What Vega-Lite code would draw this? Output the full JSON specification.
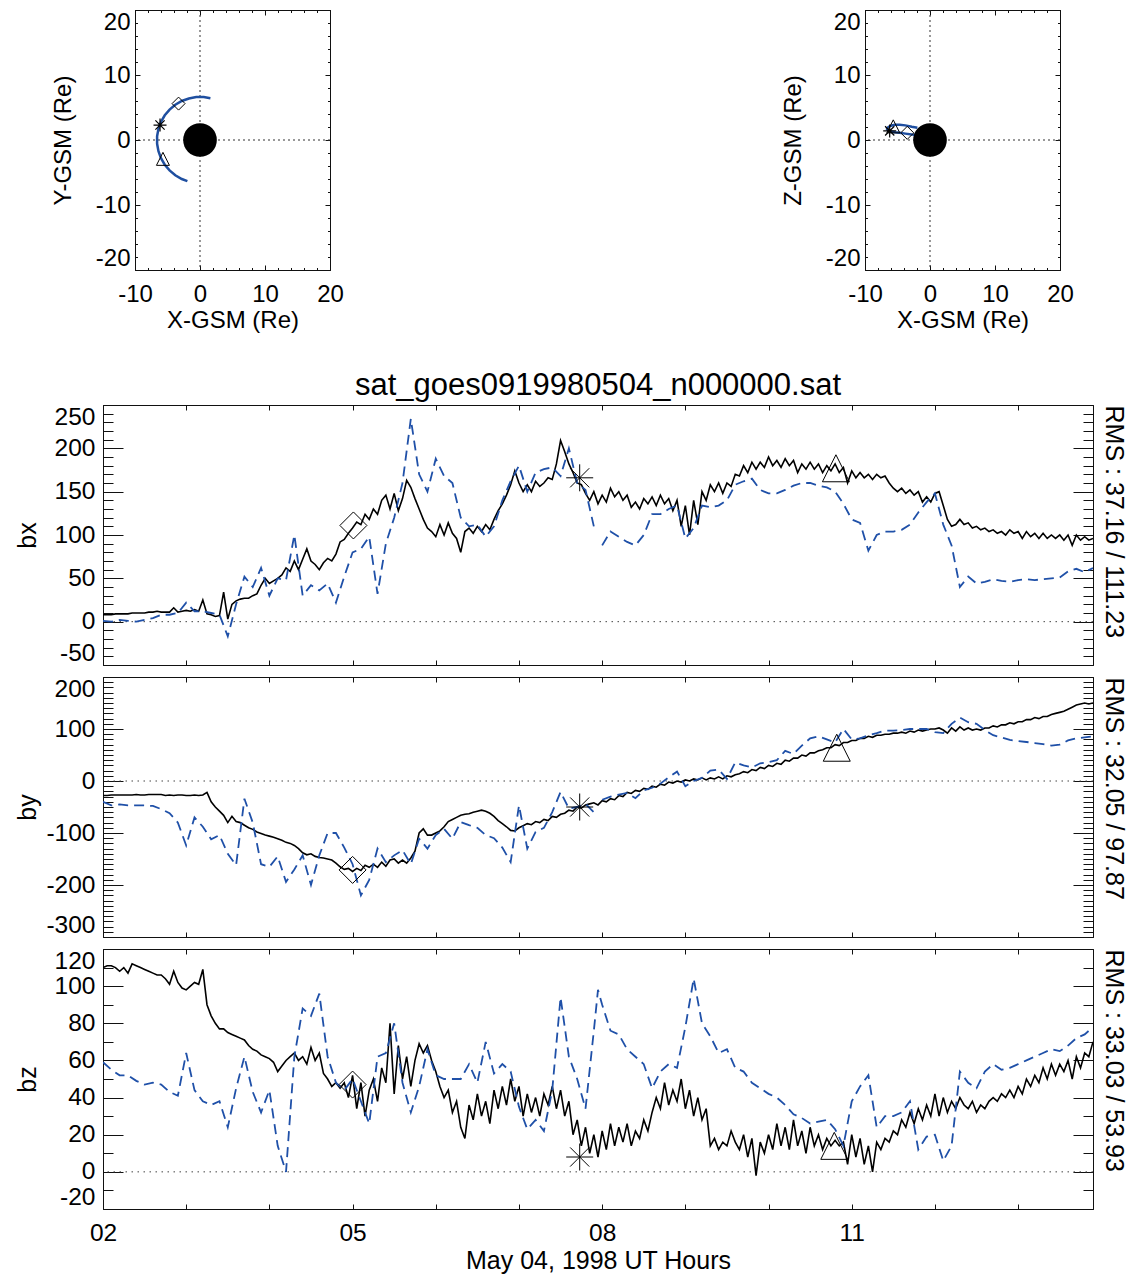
{
"$schema": "https://vega.github.io/schema/vega-lite/v6.json",
"padding": {"left": 14, "top": 9, "right": 5, "bottom": 5},
"config": {
  "font": "Liberation Sans",
  "view": {"stroke": "#111", "strokeWidth": 1},
  "axis": {"domain": false, "grid": false, "labelFont": "Liberation Sans", "titleFont": "Liberation Sans", "labelFontSize": 24.5, "titleFontSize": 25, "labelColor": "#000", "titleColor": "#000", "tickColor": "#111", "tickWidth": 1, "titleFontWeight": "normal", "labelOverlap": false},
  "title": {"font": "Liberation Sans", "fontWeight": "normal", "color": "#000"}
},
"datasets": {
"obs": [
{"t":2.00,"bx":8,"by":-28,"bz":110},{"t":2.05,"bx":8,"by":-28,"bz":111},{"t":2.10,"bx":8,"by":-27,"bz":111},{"t":2.15,"bx":9,"by":-27,"bz":110},{"t":2.20,"bx":9,"by":-27,"bz":108},{"t":2.25,"bx":9,"by":-27,"bz":110},{"t":2.30,"bx":9,"by":-27,"bz":107},{"t":2.35,"bx":10,"by":-27,"bz":112},{"t":2.40,"bx":10,"by":-26,"bz":111},{"t":2.45,"bx":10,"by":-27,"bz":110},
{"t":2.50,"bx":10,"by":-27,"bz":109},{"t":2.55,"bx":11,"by":-26,"bz":108},{"t":2.60,"bx":11,"by":-26,"bz":107},{"t":2.65,"bx":12,"by":-26,"bz":106},{"t":2.70,"bx":11,"by":-26,"bz":106},{"t":2.75,"bx":11,"by":-28,"bz":104},{"t":2.80,"bx":11,"by":-27,"bz":101},{"t":2.85,"bx":16,"by":-28,"bz":108},{"t":2.90,"bx":11,"by":-27,"bz":102},{"t":2.95,"bx":12,"by":-27,"bz":99},
{"t":3.00,"bx":13,"by":-28,"bz":98},{"t":3.05,"bx":12,"by":-28,"bz":100},{"t":3.10,"bx":14,"by":-27,"bz":102},{"t":3.15,"bx":12,"by":-28,"bz":101},{"t":3.20,"bx":25,"by":-27,"bz":109},{"t":3.25,"bx":9,"by":-22,"bz":90},{"t":3.30,"bx":8,"by":-40,"bz":84},{"t":3.35,"bx":6,"by":-50,"bz":80},{"t":3.40,"bx":7,"by":-58,"bz":77},{"t":3.45,"bx":34,"by":-66,"bz":77},
{"t":3.50,"bx":3,"by":-80,"bz":75},{"t":3.55,"bx":20,"by":-68,"bz":74},{"t":3.60,"bx":24,"by":-78,"bz":73},{"t":3.65,"bx":26,"by":-80,"bz":72},{"t":3.70,"bx":27,"by":-85,"bz":71},{"t":3.75,"bx":27,"by":-90,"bz":68},{"t":3.80,"bx":30,"by":-93,"bz":66},{"t":3.85,"bx":32,"by":-98,"bz":65},{"t":3.90,"bx":42,"by":-101,"bz":63},{"t":3.95,"bx":50,"by":-104,"bz":62},
{"t":4.00,"bx":44,"by":-106,"bz":61},{"t":4.05,"bx":47,"by":-108,"bz":59},{"t":4.10,"bx":50,"by":-111,"bz":54},{"t":4.15,"bx":54,"by":-114,"bz":57},{"t":4.20,"bx":62,"by":-118,"bz":60},{"t":4.25,"bx":58,"by":-120,"bz":62},{"t":4.30,"bx":70,"by":-124,"bz":64},{"t":4.35,"bx":60,"by":-130,"bz":60},{"t":4.40,"bx":72,"by":-138,"bz":62},{"t":4.45,"bx":84,"by":-142,"bz":58},
{"t":4.50,"bx":70,"by":-140,"bz":67},{"t":4.55,"bx":66,"by":-145,"bz":60},{"t":4.60,"bx":60,"by":-147,"bz":64},{"t":4.65,"bx":68,"by":-148,"bz":53},{"t":4.70,"bx":73,"by":-150,"bz":50},{"t":4.75,"bx":70,"by":-152,"bz":46},{"t":4.80,"bx":78,"by":-158,"bz":48},{"t":4.85,"bx":92,"by":-165,"bz":45},{"t":4.90,"bx":95,"by":-170,"bz":48},{"t":4.95,"bx":102,"by":-168,"bz":40},
{"t":5.00,"bx":108,"by":-174,"bz":52},{"t":5.05,"bx":115,"by":-168,"bz":34},{"t":5.10,"bx":112,"by":-172,"bz":48},{"t":5.15,"bx":124,"by":-162,"bz":30},{"t":5.20,"bx":118,"by":-166,"bz":44},{"t":5.25,"bx":130,"by":-160,"bz":50},{"t":5.30,"bx":124,"by":-166,"bz":38},{"t":5.35,"bx":140,"by":-156,"bz":56},{"t":5.40,"bx":146,"by":-164,"bz":48},{"t":5.45,"bx":130,"by":-152,"bz":80},
{"t":5.50,"bx":148,"by":-150,"bz":42},{"t":5.55,"bx":128,"by":-158,"bz":68},{"t":5.60,"bx":142,"by":-152,"bz":50},{"t":5.65,"bx":163,"by":-158,"bz":62},{"t":5.70,"bx":155,"by":-148,"bz":46},{"t":5.75,"bx":142,"by":-135,"bz":60},{"t":5.80,"bx":130,"by":-100,"bz":69},{"t":5.85,"bx":118,"by":-92,"bz":64},{"t":5.90,"bx":108,"by":-104,"bz":68},{"t":5.95,"bx":104,"by":-104,"bz":60},
{"t":6.00,"bx":98,"by":-100,"bz":54},{"t":6.05,"bx":112,"by":-96,"bz":46},{"t":6.10,"bx":100,"by":-88,"bz":40},{"t":6.15,"bx":114,"by":-78,"bz":44},{"t":6.20,"bx":102,"by":-74,"bz":32},{"t":6.25,"bx":96,"by":-70,"bz":38},{"t":6.30,"bx":80,"by":-66,"bz":24},{"t":6.35,"bx":104,"by":-64,"bz":18},{"t":6.40,"bx":108,"by":-63,"bz":36},{"t":6.45,"bx":102,"by":-60,"bz":28},
{"t":6.50,"bx":110,"by":-58,"bz":42},{"t":6.55,"bx":104,"by":-56,"bz":30},{"t":6.60,"bx":112,"by":-58,"bz":38},{"t":6.65,"bx":106,"by":-62,"bz":26},{"t":6.70,"bx":118,"by":-68,"bz":44},{"t":6.75,"bx":128,"by":-76,"bz":34},{"t":6.80,"bx":136,"by":-82,"bz":46},{"t":6.85,"bx":146,"by":-88,"bz":36},{"t":6.90,"bx":158,"by":-95,"bz":50},{"t":6.95,"bx":174,"by":-96,"bz":38},
{"t":7.00,"bx":160,"by":-90,"bz":46},{"t":7.05,"bx":150,"by":-86,"bz":30},{"t":7.10,"bx":158,"by":-82,"bz":42},{"t":7.15,"bx":150,"by":-84,"bz":32},{"t":7.20,"bx":162,"by":-78,"bz":40},{"t":7.25,"bx":156,"by":-80,"bz":30},{"t":7.30,"bx":160,"by":-74,"bz":42},{"t":7.35,"bx":166,"by":-76,"bz":36},{"t":7.40,"bx":164,"by":-68,"bz":46},{"t":7.45,"bx":182,"by":-70,"bz":34},
{"t":7.50,"bx":209,"by":-64,"bz":44},{"t":7.55,"bx":196,"by":-62,"bz":30},{"t":7.60,"bx":182,"by":-56,"bz":38},{"t":7.65,"bx":172,"by":-58,"bz":20},{"t":7.70,"bx":160,"by":-50,"bz":28},{"t":7.75,"bx":158,"by":-52,"bz":14},{"t":7.80,"bx":148,"by":-46,"bz":24},{"t":7.85,"bx":140,"by":-44,"bz":10},{"t":7.90,"bx":150,"by":-42,"bz":20},{"t":7.95,"bx":136,"by":-46,"bz":8},
{"t":8.00,"bx":146,"by":-38,"bz":22},{"t":8.05,"bx":138,"by":-40,"bz":12},{"t":8.10,"bx":154,"by":-34,"bz":26},{"t":8.15,"bx":144,"by":-36,"bz":14},{"t":8.20,"bx":150,"by":-28,"bz":24},{"t":8.25,"bx":140,"by":-30,"bz":16},{"t":8.30,"bx":146,"by":-22,"bz":26},{"t":8.35,"bx":132,"by":-24,"bz":14},{"t":8.40,"bx":138,"by":-18,"bz":22},{"t":8.45,"bx":130,"by":-20,"bz":18},
{"t":8.50,"bx":142,"by":-14,"bz":28},{"t":8.55,"bx":136,"by":-16,"bz":22},{"t":8.60,"bx":144,"by":-10,"bz":32},{"t":8.65,"bx":134,"by":-12,"bz":40},{"t":8.70,"bx":146,"by":-6,"bz":34},{"t":8.75,"bx":136,"by":-8,"bz":48},{"t":8.80,"bx":142,"by":-2,"bz":36},{"t":8.85,"bx":128,"by":-4,"bz":44},{"t":8.90,"bx":140,"by":0,"bz":38},{"t":8.95,"bx":110,"by":-2,"bz":50},
{"t":9.00,"bx":134,"by":2,"bz":34},{"t":9.05,"bx":100,"by":0,"bz":44},{"t":9.10,"bx":140,"by":4,"bz":30},{"t":9.15,"bx":112,"by":2,"bz":40},{"t":9.20,"bx":150,"by":6,"bz":28},{"t":9.25,"bx":140,"by":2,"bz":34},{"t":9.30,"bx":158,"by":6,"bz":14},{"t":9.35,"bx":150,"by":4,"bz":18},{"t":9.40,"bx":160,"by":8,"bz":12},{"t":9.45,"bx":148,"by":4,"bz":16},
{"t":9.50,"bx":160,"by":10,"bz":14},{"t":9.55,"bx":156,"by":8,"bz":22},{"t":9.60,"bx":170,"by":12,"bz":16},{"t":9.65,"bx":168,"by":14,"bz":12},{"t":9.70,"bx":180,"by":18,"bz":20},{"t":9.75,"bx":172,"by":16,"bz":8},{"t":9.80,"bx":184,"by":22,"bz":18},{"t":9.85,"bx":176,"by":20,"bz":-2},{"t":9.90,"bx":184,"by":26,"bz":16},{"t":9.95,"bx":178,"by":24,"bz":10},
{"t":10.00,"bx":190,"by":30,"bz":20},{"t":10.05,"bx":180,"by":28,"bz":12},{"t":10.10,"bx":186,"by":34,"bz":26},{"t":10.15,"bx":178,"by":32,"bz":14},{"t":10.20,"bx":188,"by":40,"bz":24},{"t":10.25,"bx":180,"by":38,"bz":12},{"t":10.30,"bx":186,"by":44,"bz":28},{"t":10.35,"bx":172,"by":44,"bz":14},{"t":10.40,"bx":182,"by":50,"bz":22},{"t":10.45,"bx":176,"by":48,"bz":10},
{"t":10.50,"bx":184,"by":54,"bz":24},{"t":10.55,"bx":176,"by":54,"bz":14},{"t":10.60,"bx":182,"by":58,"bz":20},{"t":10.65,"bx":172,"by":60,"bz":12},{"t":10.70,"bx":180,"by":64,"bz":18},{"t":10.75,"bx":174,"by":64,"bz":14},{"t":10.80,"bx":182,"by":70,"bz":17},{"t":10.85,"bx":172,"by":68,"bz":14},{"t":10.90,"bx":178,"by":74,"bz":16},{"t":10.95,"bx":160,"by":74,"bz":4},
{"t":11.00,"bx":174,"by":78,"bz":20},{"t":11.05,"bx":166,"by":78,"bz":8},{"t":11.10,"bx":172,"by":82,"bz":18},{"t":11.15,"bx":166,"by":82,"bz":4},{"t":11.20,"bx":170,"by":86,"bz":14},{"t":11.25,"bx":164,"by":84,"bz":0},{"t":11.30,"bx":170,"by":88,"bz":16},{"t":11.35,"bx":166,"by":88,"bz":12},{"t":11.40,"bx":168,"by":90,"bz":18},{"t":11.45,"bx":160,"by":90,"bz":16},
{"t":11.50,"bx":154,"by":92,"bz":22},{"t":11.55,"bx":150,"by":92,"bz":20},{"t":11.60,"bx":154,"by":94,"bz":28},{"t":11.65,"bx":148,"by":92,"bz":24},{"t":11.70,"bx":152,"by":96,"bz":32},{"t":11.75,"bx":146,"by":94,"bz":26},{"t":11.80,"bx":150,"by":98,"bz":34},{"t":11.85,"bx":138,"by":96,"bz":28},{"t":11.90,"bx":144,"by":98,"bz":36},{"t":11.95,"bx":138,"by":100,"bz":30},
{"t":12.00,"bx":148,"by":100,"bz":42},{"t":12.05,"bx":150,"by":102,"bz":30},{"t":12.10,"bx":134,"by":98,"bz":40},{"t":12.15,"bx":118,"by":92,"bz":32},{"t":12.20,"bx":110,"by":102,"bz":38},{"t":12.25,"bx":112,"by":96,"bz":34},{"t":12.30,"bx":118,"by":104,"bz":40},{"t":12.35,"bx":112,"by":98,"bz":36},{"t":12.40,"bx":114,"by":102,"bz":34},{"t":12.45,"bx":108,"by":98,"bz":38},
{"t":12.50,"bx":110,"by":100,"bz":32},{"t":12.55,"bx":106,"by":98,"bz":36},{"t":12.60,"bx":108,"by":102,"bz":34},{"t":12.65,"bx":104,"by":102,"bz":38},{"t":12.70,"bx":106,"by":106,"bz":40},{"t":12.75,"bx":102,"by":104,"bz":38},{"t":12.80,"bx":104,"by":108,"bz":42},{"t":12.85,"bx":100,"by":108,"bz":40},{"t":12.90,"bx":106,"by":112,"bz":44},{"t":12.95,"bx":102,"by":110,"bz":40},
{"t":13.00,"bx":104,"by":114,"bz":46},{"t":13.05,"bx":96,"by":114,"bz":42},{"t":13.10,"bx":104,"by":118,"bz":50},{"t":13.15,"bx":98,"by":118,"bz":46},{"t":13.20,"bx":102,"by":122,"bz":52},{"t":13.25,"bx":96,"by":120,"bz":48},{"t":13.30,"bx":102,"by":124,"bz":56},{"t":13.35,"bx":96,"by":124,"bz":50},{"t":13.40,"bx":100,"by":128,"bz":58},{"t":13.45,"bx":96,"by":130,"bz":52},
{"t":13.50,"bx":100,"by":132,"bz":58},{"t":13.55,"bx":94,"by":134,"bz":54},{"t":13.60,"bx":100,"by":138,"bz":60},{"t":13.65,"bx":88,"by":142,"bz":50},{"t":13.70,"bx":100,"by":146,"bz":62},{"t":13.75,"bx":94,"by":148,"bz":56},{"t":13.80,"bx":98,"by":150,"bz":64},{"t":13.85,"bx":94,"by":148,"bz":62},{"t":13.90,"bx":96,"by":150,"bz":70}
],
"mod": [
{"t":2.0,"bx":1,"by":-40,"bz":59},{"t":2.1,"bx":0,"by":-47,"bz":55},{"t":2.2,"bx":2,"by":-45,"bz":52},{"t":2.3,"bx":1,"by":-47,"bz":52},{"t":2.4,"bx":0,"by":-47,"bz":49},{"t":2.5,"bx":2,"by":-47,"bz":47},{"t":2.6,"bx":4,"by":-48,"bz":48},{"t":2.7,"bx":8,"by":-54,"bz":47},{"t":2.8,"bx":8,"by":-62,"bz":43},{"t":2.9,"bx":10,"by":-80,"bz":41},
{"t":3.0,"bx":22,"by":-124,"bz":64},{"t":3.1,"bx":12,"by":-70,"bz":44},{"t":3.2,"bx":12,"by":-88,"bz":38},{"t":3.3,"bx":10,"by":-112,"bz":36},{"t":3.4,"bx":8,"by":-104,"bz":38},{"t":3.5,"bx":-17,"by":-140,"bz":24},{"t":3.6,"bx":20,"by":-162,"bz":45},{"t":3.7,"bx":52,"by":-34,"bz":62},{"t":3.8,"bx":40,"by":-80,"bz":43},{"t":3.9,"bx":62,"by":-160,"bz":32},
{"t":4.0,"bx":30,"by":-165,"bz":44},{"t":4.1,"bx":50,"by":-145,"bz":14},{"t":4.2,"bx":48,"by":-194,"bz":0},{"t":4.3,"bx":100,"by":-170,"bz":62},{"t":4.4,"bx":30,"by":-143,"bz":88},{"t":4.5,"bx":42,"by":-200,"bz":84},{"t":4.6,"bx":36,"by":-143,"bz":96},{"t":4.7,"bx":44,"by":-100,"bz":62},{"t":4.8,"bx":22,"by":-100,"bz":48},{"t":4.9,"bx":52,"by":-128,"bz":44},
{"t":5.0,"bx":80,"by":-160,"bz":50},{"t":5.1,"bx":84,"by":-220,"bz":38},{"t":5.2,"bx":98,"by":-190,"bz":26},{"t":5.3,"bx":32,"by":-130,"bz":62},{"t":5.4,"bx":90,"by":-156,"bz":64},{"t":5.5,"bx":120,"by":-143,"bz":80},{"t":5.6,"bx":160,"by":-133,"bz":48},{"t":5.7,"bx":234,"by":-160,"bz":32},{"t":5.8,"bx":170,"by":-111,"bz":46},{"t":5.9,"bx":150,"by":-130,"bz":66},
{"t":6.0,"bx":188,"by":-104,"bz":52},{"t":6.1,"bx":168,"by":-92,"bz":50},{"t":6.2,"bx":160,"by":-111,"bz":50},{"t":6.3,"bx":120,"by":-79,"bz":50},{"t":6.4,"bx":110,"by":-85,"bz":58},{"t":6.5,"bx":112,"by":-90,"bz":48},{"t":6.6,"bx":98,"by":-104,"bz":70},{"t":6.7,"bx":110,"by":-110,"bz":53},{"t":6.8,"bx":140,"by":-128,"bz":58},{"t":6.9,"bx":162,"by":-156,"bz":54},
{"t":7.0,"bx":180,"by":-47,"bz":35},{"t":7.1,"bx":150,"by":-130,"bz":23},{"t":7.2,"bx":172,"by":-98,"bz":28},{"t":7.3,"bx":176,"by":-90,"bz":22},{"t":7.4,"bx":178,"by":-60,"bz":44},{"t":7.5,"bx":168,"by":-21,"bz":94},{"t":7.6,"bx":200,"by":-53,"bz":62},{"t":7.7,"bx":160,"by":-50,"bz":50},{"t":7.8,"bx":152,"by":-44,"bz":34},{"t":7.9,"bx":110,"by":-60,"bz":76},{"t":7.95,"bz":98},
{"t":8.0,"bx":88,"by":-36,"bz":90},{"t":8.1,"bx":104,"by":-30,"bz":76},{"t":8.2,"bx":98,"by":-26,"bz":74},{"t":8.3,"bx":92,"by":-23,"bz":66},{"t":8.4,"bx":88,"by":-33,"bz":62},{"t":8.5,"bx":100,"by":-18,"bz":58},{"t":8.6,"bx":124,"by":-13,"bz":45},{"t":8.7,"bx":124,"by":-5,"bz":54},{"t":8.8,"bx":130,"by":7,"bz":58},{"t":8.9,"bx":134,"by":18,"bz":56},
{"t":9.0,"bx":96,"by":-10,"bz":78},{"t":9.1,"bx":108,"by":0,"bz":104},{"t":9.2,"bx":134,"by":6,"bz":80},{"t":9.3,"bx":132,"by":20,"bz":73},{"t":9.4,"bx":134,"by":22,"bz":64},{"t":9.5,"bx":140,"by":4,"bz":66},{"t":9.6,"bx":158,"by":36,"bz":56},{"t":9.7,"bx":162,"by":30,"bz":54},{"t":9.8,"bx":165,"by":26,"bz":48},{"t":9.9,"bx":152,"by":34,"bz":45},
{"t":10.0,"bx":148,"by":36,"bz":42},{"t":10.1,"bx":148,"by":40,"bz":40},{"t":10.2,"bx":152,"by":58,"bz":36},{"t":10.3,"bx":157,"by":52,"bz":31},{"t":10.4,"bx":160,"by":68,"bz":29},{"t":10.5,"bx":160,"by":82,"bz":26},{"t":10.6,"bx":157,"by":86,"bz":27},{"t":10.7,"bx":155,"by":80,"bz":28},{"t":10.8,"bx":150,"by":74,"bz":23},{"t":10.9,"bx":136,"by":100,"bz":14},
{"t":11.0,"bx":118,"by":80,"bz":38},{"t":11.1,"bx":114,"by":82,"bz":46},{"t":11.2,"bx":82,"by":88,"bz":52},{"t":11.3,"bx":100,"by":92,"bz":24},{"t":11.4,"bx":104,"by":97,"bz":30},{"t":11.5,"bx":104,"by":97,"bz":30},{"t":11.6,"bx":106,"by":98,"bz":32},{"t":11.7,"bx":112,"by":100,"bz":38},{"t":11.8,"bx":126,"by":100,"bz":12},{"t":11.9,"bx":138,"by":100,"bz":19},
{"t":12.0,"bx":148,"by":94,"bz":20},{"t":12.1,"bx":112,"by":92,"bz":6},{"t":12.2,"bx":88,"by":110,"bz":14},{"t":12.3,"bx":40,"by":122,"bz":54},{"t":12.4,"bx":52,"by":113,"bz":48},{"t":12.5,"bx":44,"by":110,"bz":45},{"t":12.6,"bx":46,"by":98,"bz":54},{"t":12.7,"bx":49,"by":88,"bz":58},{"t":12.8,"bx":47,"by":84,"bz":55},{"t":12.9,"bx":46,"by":79,"bz":56},
{"t":13.0,"bx":48,"by":77,"bz":58},{"t":13.1,"bx":49,"by":75,"bz":60},{"t":13.2,"bx":48,"by":73,"bz":62},{"t":13.3,"bx":49,"by":71,"bz":64},{"t":13.4,"bx":50,"by":68,"bz":66},{"t":13.5,"bx":51,"by":70,"bz":65},{"t":13.6,"bx":58,"by":78,"bz":68},{"t":13.7,"bx":61,"by":82,"bz":72},{"t":13.8,"bx":57,"by":84,"bz":74},{"t":13.9,"bx":62,"by":86,"bz":78}
],
"mk": [
{"p":"bx","s":"d","t":5.01,"v":111},{"p":"bx","s":"a","t":7.73,"v":166},{"p":"bx","s":"tr","t":10.81,"v":177},
{"p":"by","s":"d","t":5.0,"v":-171},{"p":"by","s":"a","t":7.73,"v":-50},{"p":"by","s":"tr","t":10.82,"v":64},
{"p":"bz","s":"d","t":5.0,"v":47},{"p":"bz","s":"a","t":7.73,"v":8},{"p":"bz","s":"tr","t":10.79,"v":14}
],
"orb": [
{"p":"xy","i":0,"x":1.6,"y":6.42},{"p":"xy","i":1,"x":0.58,"y":6.6},{"p":"xy","i":2,"x":-0.58,"y":6.6},{"p":"xy","i":3,"x":-1.71,"y":6.39},{"p":"xy","i":4,"x":-2.8,"y":6.0},{"p":"xy","i":5,"x":-3.8,"y":5.42},{"p":"xy","i":6,"x":-4.68,"y":4.68},{"p":"xy","i":7,"x":-5.42,"y":3.8},{"p":"xy","i":8,"x":-6.0,"y":2.8},{"p":"xy","i":9,"x":-6.39,"y":1.71},
{"p":"xy","i":10,"x":-6.6,"y":0.58},{"p":"xy","i":11,"x":-6.6,"y":-0.58},{"p":"xy","i":12,"x":-6.39,"y":-1.71},{"p":"xy","i":13,"x":-6.0,"y":-2.8},{"p":"xy","i":14,"x":-5.42,"y":-3.8},{"p":"xy","i":15,"x":-4.68,"y":-4.68},{"p":"xy","i":16,"x":-3.8,"y":-5.42},{"p":"xy","i":17,"x":-2.8,"y":-6.0},{"p":"xy","i":18,"x":-1.94,"y":-6.33},
{"p":"xz","i":0,"x":1.6,"y":0.5},{"p":"xz","i":1,"x":0.58,"y":0.6},{"p":"xz","i":2,"x":-0.58,"y":0.68},{"p":"xz","i":3,"x":-1.71,"y":0.76},{"p":"xz","i":4,"x":-2.8,"y":0.85},{"p":"xz","i":5,"x":-3.8,"y":0.98},{"p":"xz","i":6,"x":-4.68,"y":1.1},{"p":"xz","i":7,"x":-5.42,"y":1.2},{"p":"xz","i":8,"x":-6.0,"y":1.3},{"p":"xz","i":9,"x":-6.39,"y":1.45},
{"p":"xz","i":10,"x":-6.6,"y":1.62},{"p":"xz","i":11,"x":-6.6,"y":1.8},{"p":"xz","i":12,"x":-6.39,"y":2.0},{"p":"xz","i":13,"x":-6.0,"y":2.2},{"p":"xz","i":14,"x":-5.42,"y":2.35},{"p":"xz","i":15,"x":-4.68,"y":2.35},{"p":"xz","i":16,"x":-3.8,"y":2.25},{"p":"xz","i":17,"x":-2.8,"y":2.05},{"p":"xz","i":18,"x":-1.94,"y":1.9}
],
"omk": [
{"p":"xy","s":"d","x":-3.3,"y":5.6},{"p":"xy","s":"a","x":-6.15,"y":2.3},{"p":"xy","s":"tr","x":-5.7,"y":-2.9},
{"p":"xz","s":"d","x":-3.5,"y":1.1},{"p":"xz","s":"a","x":-6.2,"y":1.4},{"p":"xz","s":"tr","x":-5.65,"y":2.1}
]
},
"vconcat": [
{
 "hconcat": [
  {"width": 32, "height": 260, "data": {"values": []}, "mark": "point", "view": {"stroke": null}},
  {
   "width": 195, "height": 260,
   "layer": [
    {"data": {"values": [{}]}, "mark": {"type": "rule", "color": "#333", "strokeDash": [2, 3], "strokeWidth": 1},
     "encoding": {"y": {"datum": 0, "type": "quantitative", "scale": {"domain": [-20, 20], "nice": false, "zero": false},
       "axis": {"orient": "left", "values": [-20,-18,-16,-14,-12,-10,-8,-6,-4,-2,0,2,4,6,8,10,12,14,16,18,20], "labels": false, "tickSize": -2.5, "title": null}}}},
    {"data": {"values": [{}]}, "mark": {"type": "rule", "color": "#333", "strokeDash": [2, 3], "strokeWidth": 1},
     "encoding": {"x": {"datum": 0, "type": "quantitative", "scale": {"domain": [-10, 20], "nice": false, "zero": false},
       "axis": {"orient": "bottom", "values": [-10,-8,-6,-4,-2,0,2,4,6,8,10,12,14,16,18,20], "labels": false, "tickSize": -2.5, "title": null}}}},
    {"data": {"name": "orb"}, "transform": [{"filter": "datum.p == 'xy'"}],
     "mark": {"type": "line", "color": "#1f4fa0", "strokeWidth": 2.5},
     "encoding": {
       "x": {"field": "x", "type": "quantitative", "scale": {"domain": [-10, 20], "nice": false, "zero": false},
         "axis": {"orient": "bottom", "values": [-10, 0, 10, 20], "ticks": false, "labelFlush": false, "labelPadding": 12, "labelFontSize": 24, "labelExpr": "(datum.value < 0 ? '-' : '') + abs(datum.value)", "title": "X-GSM (Re)", "titleFontSize": 24, "titlePadding": 2}},
       "y": {"field": "y", "type": "quantitative", "scale": {"domain": [-20, 20], "nice": false, "zero": false},
         "axis": {"orient": "left", "values": [-20, -10, 0, 10, 20], "ticks": false, "labelFlush": true, "labelPadding": 5, "labelFontSize": 24, "labelExpr": "(datum.value < 0 ? '-' : '') + abs(datum.value)", "title": "Y-GSM (Re)", "titleFontSize": 24, "titleAngle": 270, "titleBaseline": "bottom", "titleAlign": "center", "titleX": -60, "titleY": 130}},
       "order": {"field": "i"}}},
    {"data": {"values": [{}]}, "mark": {"type": "point", "shape": "circle", "filled": true, "color": "#000", "size": 1134, "opacity": 1},
     "encoding": {
       "x": {"datum": 0, "type": "quantitative", "scale": {"domain": [-10, 20], "nice": false, "zero": false}, "axis": {"orient": "top", "values": [-10, 0, 10, 20], "labels": false, "tickSize": -5, "title": null}},
       "y": {"datum": 0, "type": "quantitative", "scale": {"domain": [-20, 20], "nice": false, "zero": false}, "axis": {"orient": "right", "values": [-20, -10, 0, 10, 20], "labels": false, "tickSize": -5, "title": null}}}},
    {"data": {"name": "omk"}, "transform": [{"filter": "datum.p == 'xy' && datum.s == 'd'"}],
     "mark": {"type": "point", "shape": "diamond", "filled": false, "color": "#000", "size": 169, "strokeWidth": 1, "opacity": 1},
     "encoding": {
       "x": {"field": "x", "type": "quantitative", "scale": {"domain": [-10, 20], "nice": false, "zero": false}, "axis": {"orient": "bottom", "values": [-10, 0, 10, 20], "labels": false, "tickSize": -5, "title": null}},
       "y": {"field": "y", "type": "quantitative", "scale": {"domain": [-20, 20], "nice": false, "zero": false}, "axis": {"orient": "left", "values": [-20, -10, 0, 10, 20], "labels": false, "tickSize": -5, "title": null}}}},
    {"data": {"name": "omk"}, "transform": [{"filter": "datum.p == 'xy' && datum.s == 'a'"}],
     "mark": {"type": "point", "shape": "M-1,0L1,0M0,-1L0,1M-0.71,-0.71L0.71,0.71M-0.71,0.71L0.71,-0.71", "filled": false, "color": "#000", "size": 169, "strokeWidth": 1.2, "opacity": 1},
     "encoding": {
       "x": {"field": "x", "type": "quantitative", "scale": {"domain": [-10, 20], "nice": false, "zero": false}, "axis": {"orient": "top", "values": [-10,-8,-6,-4,-2,0,2,4,6,8,10,12,14,16,18,20], "labels": false, "tickSize": -2.5, "title": null}},
       "y": {"field": "y", "type": "quantitative", "scale": {"domain": [-20, 20], "nice": false, "zero": false}, "axis": {"orient": "right", "values": [-20,-18,-16,-14,-12,-10,-8,-6,-4,-2,0,2,4,6,8,10,12,14,16,18,20], "labels": false, "tickSize": -2.5, "title": null}}}},
    {"data": {"name": "omk"}, "transform": [{"filter": "datum.p == 'xy' && datum.s == 'tr'"}],
     "mark": {"type": "point", "shape": "M0,-1L1,1L-1,1Z", "filled": false, "color": "#000", "size": 169, "strokeWidth": 1, "opacity": 1},
     "encoding": {
       "x": {"field": "x", "type": "quantitative", "scale": {"domain": [-10, 20], "nice": false, "zero": false}, "axis": null},
       "y": {"field": "y", "type": "quantitative", "scale": {"domain": [-20, 20], "nice": false, "zero": false}, "axis": null}}}
   ],
   "resolve": {"axis": {"x": "independent", "y": "independent"}}
  },
  {"width": 535, "height": 260, "data": {"values": []}, "mark": "point", "view": {"stroke": null}},
  {
   "width": 195, "height": 260,
   "layer": [
    {"data": {"values": [{}]}, "mark": {"type": "rule", "color": "#333", "strokeDash": [2, 3], "strokeWidth": 1},
     "encoding": {"y": {"datum": 0, "type": "quantitative", "scale": {"domain": [-20, 20], "nice": false, "zero": false},
       "axis": {"orient": "left", "values": [-20,-18,-16,-14,-12,-10,-8,-6,-4,-2,0,2,4,6,8,10,12,14,16,18,20], "labels": false, "tickSize": -2.5, "title": null}}}},
    {"data": {"values": [{}]}, "mark": {"type": "rule", "color": "#333", "strokeDash": [2, 3], "strokeWidth": 1},
     "encoding": {"x": {"datum": 0, "type": "quantitative", "scale": {"domain": [-10, 20], "nice": false, "zero": false},
       "axis": {"orient": "bottom", "values": [-10,-8,-6,-4,-2,0,2,4,6,8,10,12,14,16,18,20], "labels": false, "tickSize": -2.5, "title": null}}}},
    {"data": {"name": "orb"}, "transform": [{"filter": "datum.p == 'xz'"}],
     "mark": {"type": "line", "color": "#1f4fa0", "strokeWidth": 2.5},
     "encoding": {
       "x": {"field": "x", "type": "quantitative", "scale": {"domain": [-10, 20], "nice": false, "zero": false},
         "axis": {"orient": "bottom", "values": [-10, 0, 10, 20], "ticks": false, "labelFlush": false, "labelPadding": 12, "labelFontSize": 24, "labelExpr": "(datum.value < 0 ? '-' : '') + abs(datum.value)", "title": "X-GSM (Re)", "titleFontSize": 24, "titlePadding": 2}},
       "y": {"field": "y", "type": "quantitative", "scale": {"domain": [-20, 20], "nice": false, "zero": false},
         "axis": {"orient": "left", "values": [-20, -10, 0, 10, 20], "ticks": false, "labelFlush": true, "labelPadding": 5, "labelFontSize": 24, "labelExpr": "(datum.value < 0 ? '-' : '') + abs(datum.value)", "title": "Z-GSM (Re)", "titleFontSize": 24, "titleAngle": 270, "titleBaseline": "bottom", "titleAlign": "center", "titleX": -60, "titleY": 130}},
       "order": {"field": "i"}}},
    {"data": {"values": [{}]}, "mark": {"type": "point", "shape": "circle", "filled": true, "color": "#000", "size": 1134, "opacity": 1},
     "encoding": {
       "x": {"datum": 0, "type": "quantitative", "scale": {"domain": [-10, 20], "nice": false, "zero": false}, "axis": {"orient": "top", "values": [-10, 0, 10, 20], "labels": false, "tickSize": -5, "title": null}},
       "y": {"datum": 0, "type": "quantitative", "scale": {"domain": [-20, 20], "nice": false, "zero": false}, "axis": {"orient": "right", "values": [-20, -10, 0, 10, 20], "labels": false, "tickSize": -5, "title": null}}}},
    {"data": {"name": "omk"}, "transform": [{"filter": "datum.p == 'xz' && datum.s == 'd'"}],
     "mark": {"type": "point", "shape": "diamond", "filled": false, "color": "#000", "size": 169, "strokeWidth": 1, "opacity": 1},
     "encoding": {
       "x": {"field": "x", "type": "quantitative", "scale": {"domain": [-10, 20], "nice": false, "zero": false}, "axis": {"orient": "bottom", "values": [-10, 0, 10, 20], "labels": false, "tickSize": -5, "title": null}},
       "y": {"field": "y", "type": "quantitative", "scale": {"domain": [-20, 20], "nice": false, "zero": false}, "axis": {"orient": "left", "values": [-20, -10, 0, 10, 20], "labels": false, "tickSize": -5, "title": null}}}},
    {"data": {"name": "omk"}, "transform": [{"filter": "datum.p == 'xz' && datum.s == 'a'"}],
     "mark": {"type": "point", "shape": "M-1,0L1,0M0,-1L0,1M-0.71,-0.71L0.71,0.71M-0.71,0.71L0.71,-0.71", "filled": false, "color": "#000", "size": 169, "strokeWidth": 1.2, "opacity": 1},
     "encoding": {
       "x": {"field": "x", "type": "quantitative", "scale": {"domain": [-10, 20], "nice": false, "zero": false}, "axis": {"orient": "top", "values": [-10,-8,-6,-4,-2,0,2,4,6,8,10,12,14,16,18,20], "labels": false, "tickSize": -2.5, "title": null}},
       "y": {"field": "y", "type": "quantitative", "scale": {"domain": [-20, 20], "nice": false, "zero": false}, "axis": {"orient": "right", "values": [-20,-18,-16,-14,-12,-10,-8,-6,-4,-2,0,2,4,6,8,10,12,14,16,18,20], "labels": false, "tickSize": -2.5, "title": null}}}},
    {"data": {"name": "omk"}, "transform": [{"filter": "datum.p == 'xz' && datum.s == 'tr'"}],
     "mark": {"type": "point", "shape": "M0,-1L1,1L-1,1Z", "filled": false, "color": "#000", "size": 169, "strokeWidth": 1, "opacity": 1},
     "encoding": {
       "x": {"field": "x", "type": "quantitative", "scale": {"domain": [-10, 20], "nice": false, "zero": false}, "axis": null},
       "y": {"field": "y", "type": "quantitative", "scale": {"domain": [-20, 20], "nice": false, "zero": false}, "axis": null}}}
   ],
   "resolve": {"axis": {"x": "independent", "y": "independent"}}
  }
 ],
 "spacing": 0,
 "bounds": "flush"
},
{"width": 10, "height": 371, "data": {"values": []}, "mark": "point", "view": {"stroke": null}},
{
 "width": 990, "height": 260,
 "title": {"text": "sat_goes0919980504_n000000.sat", "fontSize": 31, "anchor": "middle", "frame": "group", "offset": 2},
 "layer": [
  {"data": {"values": [{}]}, "mark": {"type": "rule", "color": "#444", "strokeDash": [1.5, 4.5], "strokeWidth": 1},
   "encoding": {"y": {"datum": 0, "type": "quantitative", "scale": {"domain": [-50, 250], "nice": false, "zero": false},
     "axis": {"orient": "left", "values": [-50,-40,-30,-20,-10,0,10,20,30,40,50,60,70,80,90,100,110,120,130,140,150,160,170,180,190,200,210,220,230,240,250], "labels": false, "tickSize": -10, "title": null}}}},
  {"data": {"name": "obs"}, "mark": {"type": "line", "color": "#000", "strokeWidth": 1.6, "clip": true},
   "encoding": {
     "x": {"field": "t", "type": "quantitative", "scale": {"domain": [2, 13.9], "nice": false, "zero": false}, "axis": {"orient": "bottom", "values": [2,3,4,5,6,7,8,9,10,11,12,13], "labels": false, "tickSize": -5, "title": null}},
     "y": {"field": "bx", "type": "quantitative", "scale": {"domain": [-50, 250], "nice": false, "zero": false},
       "axis": {"orient": "left", "values": [-50, 0, 50, 100, 150, 200, 250], "ticks": false, "labelFlush": true, "labelPadding": 8, "labelExpr": "(datum.value < 0 ? '-' : '') + abs(datum.value)", "title": "bx", "titleAngle": 270, "titleBaseline": "bottom", "titleAlign": "center", "titleX": -63, "titleY": 130}}}},
  {"data": {"name": "mod"}, "mark": {"type": "line", "color": "#1f50a8", "strokeWidth": 1.8, "strokeDash": [10, 6], "clip": true},
   "encoding": {
     "x": {"field": "t", "type": "quantitative", "scale": {"domain": [2, 13.9], "nice": false, "zero": false}, "axis": {"orient": "top", "values": [2,3,4,5,6,7,8,9,10,11,12,13], "labels": false, "tickSize": -5, "title": null}},
     "y": {"field": "bx", "type": "quantitative", "scale": {"domain": [-50, 250], "nice": false, "zero": false}, "axis": {"orient": "left", "values": [-50, 0, 50, 100, 150, 200, 250], "labels": false, "tickSize": -20, "title": null}}}},
  {"data": {"name": "mk"}, "transform": [{"filter": "datum.p == 'bx' && datum.s == 'd'"}],
   "mark": {"type": "point", "shape": "diamond", "filled": false, "color": "#000", "size": 729, "strokeWidth": 1, "opacity": 1},
   "encoding": {
     "x": {"field": "t", "type": "quantitative", "scale": {"domain": [2, 13.9], "nice": false, "zero": false}, "axis": null},
     "y": {"field": "v", "type": "quantitative", "scale": {"domain": [-50, 250], "nice": false, "zero": false},
       "axis": {"orient": "right", "values": [-50, 0, 50, 100, 150, 200, 250], "labels": false, "tickSize": -20, "title": "RMS : 37.16 / 111.23", "titleAngle": 90, "titleAlign": "left", "titleBaseline": "bottom", "titleX": 7, "titleY": 0}}}},
  {"data": {"name": "mk"}, "transform": [{"filter": "datum.p == 'bx' && datum.s == 'a'"}],
   "mark": {"type": "point", "shape": "M-1,0L1,0M0,-1L0,1M-0.71,-0.71L0.71,0.71M-0.71,0.71L0.71,-0.71", "filled": false, "color": "#000", "size": 729, "strokeWidth": 1, "opacity": 1},
   "encoding": {
     "x": {"field": "t", "type": "quantitative", "scale": {"domain": [2, 13.9], "nice": false, "zero": false}, "axis": null},
     "y": {"field": "v", "type": "quantitative", "scale": {"domain": [-50, 250], "nice": false, "zero": false},
       "axis": {"orient": "right", "values": [-50,-40,-30,-20,-10,0,10,20,30,40,50,60,70,80,90,100,110,120,130,140,150,160,170,180,190,200,210,220,230,240,250], "labels": false, "tickSize": -10, "title": null}}}},
  {"data": {"name": "mk"}, "transform": [{"filter": "datum.p == 'bx' && datum.s == 'tr'"}],
   "mark": {"type": "point", "shape": "M0,-1L1,1L-1,1Z", "filled": false, "color": "#000", "size": 729, "strokeWidth": 1, "opacity": 1},
   "encoding": {
     "x": {"field": "t", "type": "quantitative", "scale": {"domain": [2, 13.9], "nice": false, "zero": false}, "axis": null},
     "y": {"field": "v", "type": "quantitative", "scale": {"domain": [-50, 250], "nice": false, "zero": false}, "axis": null}}}
 ],
 "resolve": {"axis": {"x": "independent", "y": "independent"}}
},
{
 "width": 990, "height": 260,
 "layer": [
  {"data": {"values": [{}]}, "mark": {"type": "rule", "color": "#444", "strokeDash": [1.5, 4.5], "strokeWidth": 1},
   "encoding": {"y": {"datum": 0, "type": "quantitative", "scale": {"domain": [-300, 200], "nice": false, "zero": false},
     "axis": {"orient": "left", "values": [-300,-290,-280,-270,-260,-250,-240,-230,-220,-210,-200,-190,-180,-170,-160,-150,-140,-130,-120,-110,-100,-90,-80,-70,-60,-50,-40,-30,-20,-10,0,10,20,30,40,50,60,70,80,90,100,110,120,130,140,150,160,170,180,190,200], "labels": false, "tickSize": -10, "title": null}}}},
  {"data": {"name": "obs"}, "mark": {"type": "line", "color": "#000", "strokeWidth": 1.6, "clip": true},
   "encoding": {
     "x": {"field": "t", "type": "quantitative", "scale": {"domain": [2, 13.9], "nice": false, "zero": false}, "axis": {"orient": "bottom", "values": [2,3,4,5,6,7,8,9,10,11,12,13], "labels": false, "tickSize": -5, "title": null}},
     "y": {"field": "by", "type": "quantitative", "scale": {"domain": [-300, 200], "nice": false, "zero": false},
       "axis": {"orient": "left", "values": [-300, -200, -100, 0, 100, 200], "ticks": false, "labelFlush": true, "labelPadding": 8, "labelExpr": "(datum.value < 0 ? '-' : '') + abs(datum.value)", "title": "by", "titleAngle": 270, "titleBaseline": "bottom", "titleAlign": "center", "titleX": -63, "titleY": 130}}}},
  {"data": {"name": "mod"}, "mark": {"type": "line", "color": "#1f50a8", "strokeWidth": 1.8, "strokeDash": [10, 6], "clip": true},
   "encoding": {
     "x": {"field": "t", "type": "quantitative", "scale": {"domain": [2, 13.9], "nice": false, "zero": false}, "axis": {"orient": "top", "values": [2,3,4,5,6,7,8,9,10,11,12,13], "labels": false, "tickSize": -5, "title": null}},
     "y": {"field": "by", "type": "quantitative", "scale": {"domain": [-300, 200], "nice": false, "zero": false}, "axis": {"orient": "left", "values": [-300, -200, -100, 0, 100, 200], "labels": false, "tickSize": -20, "title": null}}}},
  {"data": {"name": "mk"}, "transform": [{"filter": "datum.p == 'by' && datum.s == 'd'"}],
   "mark": {"type": "point", "shape": "diamond", "filled": false, "color": "#000", "size": 729, "strokeWidth": 1, "opacity": 1},
   "encoding": {
     "x": {"field": "t", "type": "quantitative", "scale": {"domain": [2, 13.9], "nice": false, "zero": false}, "axis": null},
     "y": {"field": "v", "type": "quantitative", "scale": {"domain": [-300, 200], "nice": false, "zero": false},
       "axis": {"orient": "right", "values": [-300, -200, -100, 0, 100, 200], "labels": false, "tickSize": -20, "title": "RMS : 32.05 / 97.87", "titleAngle": 90, "titleAlign": "left", "titleBaseline": "bottom", "titleX": 7, "titleY": 0}}}},
  {"data": {"name": "mk"}, "transform": [{"filter": "datum.p == 'by' && datum.s == 'a'"}],
   "mark": {"type": "point", "shape": "M-1,0L1,0M0,-1L0,1M-0.71,-0.71L0.71,0.71M-0.71,0.71L0.71,-0.71", "filled": false, "color": "#000", "size": 729, "strokeWidth": 1, "opacity": 1},
   "encoding": {
     "x": {"field": "t", "type": "quantitative", "scale": {"domain": [2, 13.9], "nice": false, "zero": false}, "axis": null},
     "y": {"field": "v", "type": "quantitative", "scale": {"domain": [-300, 200], "nice": false, "zero": false},
       "axis": {"orient": "right", "values": [-300,-290,-280,-270,-260,-250,-240,-230,-220,-210,-200,-190,-180,-170,-160,-150,-140,-130,-120,-110,-100,-90,-80,-70,-60,-50,-40,-30,-20,-10,0,10,20,30,40,50,60,70,80,90,100,110,120,130,140,150,160,170,180,190,200], "labels": false, "tickSize": -10, "title": null}}}},
  {"data": {"name": "mk"}, "transform": [{"filter": "datum.p == 'by' && datum.s == 'tr'"}],
   "mark": {"type": "point", "shape": "M0,-1L1,1L-1,1Z", "filled": false, "color": "#000", "size": 729, "strokeWidth": 1, "opacity": 1},
   "encoding": {
     "x": {"field": "t", "type": "quantitative", "scale": {"domain": [2, 13.9], "nice": false, "zero": false}, "axis": null},
     "y": {"field": "v", "type": "quantitative", "scale": {"domain": [-300, 200], "nice": false, "zero": false}, "axis": null}}}
 ],
 "resolve": {"axis": {"x": "independent", "y": "independent"}}
},
{
 "width": 990, "height": 260,
 "layer": [
  {"data": {"values": [{}]}, "mark": {"type": "rule", "color": "#444", "strokeDash": [1.5, 4.5], "strokeWidth": 1},
   "encoding": {"y": {"datum": 0, "type": "quantitative", "scale": {"domain": [-20, 120], "nice": false, "zero": false},
     "axis": {"orient": "left", "values": [-20,-10,0,10,20,30,40,50,60,70,80,90,100,110,120], "labels": false, "tickSize": -10, "title": null}}}},
  {"data": {"name": "obs"}, "mark": {"type": "line", "color": "#000", "strokeWidth": 1.6, "clip": true},
   "encoding": {
     "x": {"field": "t", "type": "quantitative", "scale": {"domain": [2, 13.9], "nice": false, "zero": false}, "axis": {"orient": "bottom", "values": [2,3,4,5,6,7,8,9,10,11,12,13], "labels": false, "tickSize": -5, "title": null}},
     "y": {"field": "bz", "type": "quantitative", "scale": {"domain": [-20, 120], "nice": false, "zero": false},
       "axis": {"orient": "left", "values": [-20, 0, 20, 40, 60, 80, 100, 120], "ticks": false, "labelFlush": true, "labelPadding": 8, "labelExpr": "(datum.value < 0 ? '-' : '') + abs(datum.value)", "title": "bz", "titleAngle": 270, "titleBaseline": "bottom", "titleAlign": "center", "titleX": -63, "titleY": 130}}}},
  {"data": {"name": "mod"}, "mark": {"type": "line", "color": "#1f50a8", "strokeWidth": 1.8, "strokeDash": [10, 6], "clip": true},
   "encoding": {
     "x": {"field": "t", "type": "quantitative", "scale": {"domain": [2, 13.9], "nice": false, "zero": false}, "axis": {"orient": "top", "values": [2,3,4,5,6,7,8,9,10,11,12,13], "labels": false, "tickSize": -5, "title": null}},
     "y": {"field": "bz", "type": "quantitative", "scale": {"domain": [-20, 120], "nice": false, "zero": false}, "axis": {"orient": "left", "values": [-20, 0, 20, 40, 60, 80, 100, 120], "labels": false, "tickSize": -20, "title": null}}}},
  {"data": {"name": "mk"}, "transform": [{"filter": "datum.p == 'bz' && datum.s == 'd'"}],
   "mark": {"type": "point", "shape": "diamond", "filled": false, "color": "#000", "size": 729, "strokeWidth": 1, "opacity": 1},
   "encoding": {
     "x": {"field": "t", "type": "quantitative", "scale": {"domain": [2, 13.9], "nice": false, "zero": false},
       "axis": {"orient": "bottom", "values": [2, 5, 8, 11], "ticks": false, "labelFlush": false, "labelPadding": 12.7, "labelExpr": "(datum.value < 10 ? '0' : '') + datum.value", "title": "May 04, 1998 UT Hours", "titlePadding": 3}},
     "y": {"field": "v", "type": "quantitative", "scale": {"domain": [-20, 120], "nice": false, "zero": false},
       "axis": {"orient": "right", "values": [-20, 0, 20, 40, 60, 80, 100, 120], "labels": false, "tickSize": -20, "title": "RMS : 33.03 / 53.93", "titleAngle": 90, "titleAlign": "left", "titleBaseline": "bottom", "titleX": 7, "titleY": 0}}}},
  {"data": {"name": "mk"}, "transform": [{"filter": "datum.p == 'bz' && datum.s == 'a'"}],
   "mark": {"type": "point", "shape": "M-1,0L1,0M0,-1L0,1M-0.71,-0.71L0.71,0.71M-0.71,0.71L0.71,-0.71", "filled": false, "color": "#000", "size": 729, "strokeWidth": 1, "opacity": 1},
   "encoding": {
     "x": {"field": "t", "type": "quantitative", "scale": {"domain": [2, 13.9], "nice": false, "zero": false}, "axis": null},
     "y": {"field": "v", "type": "quantitative", "scale": {"domain": [-20, 120], "nice": false, "zero": false},
       "axis": {"orient": "right", "values": [-20,-10,0,10,20,30,40,50,60,70,80,90,100,110,120], "labels": false, "tickSize": -10, "title": null}}}},
  {"data": {"name": "mk"}, "transform": [{"filter": "datum.p == 'bz' && datum.s == 'tr'"}],
   "mark": {"type": "point", "shape": "M0,-1L1,1L-1,1Z", "filled": false, "color": "#000", "size": 729, "strokeWidth": 1, "opacity": 1},
   "encoding": {
     "x": {"field": "t", "type": "quantitative", "scale": {"domain": [2, 13.9], "nice": false, "zero": false}, "axis": null},
     "y": {"field": "v", "type": "quantitative", "scale": {"domain": [-20, 120], "nice": false, "zero": false}, "axis": null}}}
 ],
 "resolve": {"axis": {"x": "independent", "y": "independent"}}
}
],
"spacing": 12,
"bounds": "flush"
}
